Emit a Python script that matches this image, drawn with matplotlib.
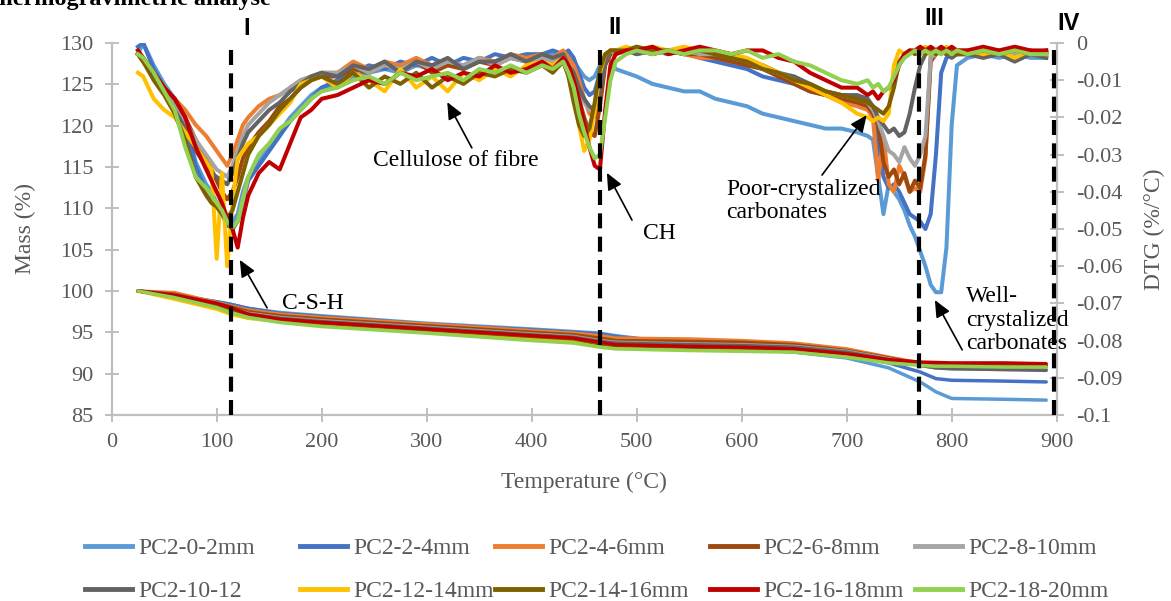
import numpy as np
import matplotlib
matplotlib.use("Agg")
import matplotlib.pyplot as plt
from matplotlib.ticker import FuncFormatter, MultipleLocator

plt.rcParams["font.family"] = ["Liberation Serif", "DejaVu Serif"]
plt.rcParams["axes.unicode_minus"] = False

W, H = 1171, 601

labels = ["PC2-0-2mm", "PC2-2-4mm", "PC2-4-6mm", "PC2-6-8mm", "PC2-8-10mm",
          "PC2-10-12", "PC2-12-14mm", "PC2-14-16mm", "PC2-16-18mm", "PC2-18-20mm"]
colors = ["#5B9BD5", "#4472C4", "#ED7D31", "#9E480E", "#A5A5A5",
          "#636363", "#FFC000", "#7F6000", "#C00000", "#92D050"]

# ---- mass curves (left axis, %) ----
temp_mass = [25, 60, 100, 113, 130, 160, 200, 300, 400, 440, 465, 480,
             550, 600, 650, 700, 740, 770, 785, 800, 850, 890]
mass_0_2 = [100, 99.5, 98.7, 98.4, 97.9, 97.4, 97.0, 96.1, 95.4, 95.1, 94.9, 94.6,
            93.5, 93.0, 92.6, 91.9, 90.7, 89.0, 87.8, 87.0, 86.9, 86.8]
mass_2_4 = [100, 99.5, 98.7, 98.4, 97.9, 97.3, 96.9, 96.0, 95.3, 95.0, 94.8, 94.5,
            93.6, 93.2, 92.9, 92.3, 91.3, 90.2, 89.4, 89.2, 89.1, 89.0]
mass_4_6 = [100, 99.8, 98.6, 98.2, 97.7, 97.2, 96.8, 96.0, 95.2, 94.9, 94.6, 94.3,
            94.2, 94.0, 93.7, 93.0, 92.0, 91.3, 91.2, 91.2, 91.1, 91.0]
mass_6_8 = [100, 99.6, 98.5, 98.1, 97.5, 97.0, 96.6, 95.8, 95.0, 94.7, 94.3, 94.0,
            93.9, 93.8, 93.5, 92.8, 91.9, 91.2, 91.0, 91.0, 90.9, 90.8]
mass_8_10 = [100, 99.5, 98.4, 97.9, 97.3, 96.8, 96.4, 95.6, 94.8, 94.5, 94.0, 93.8,
             93.6, 93.5, 93.3, 92.7, 91.8, 91.0, 90.7, 90.6, 90.5, 90.5]
mass_10_12 = [100, 99.5, 98.3, 97.8, 97.2, 96.7, 96.3, 95.5, 94.7, 94.4, 93.9, 93.7,
              93.5, 93.4, 93.2, 92.6, 91.7, 91.0, 90.7, 90.6, 90.5, 90.4]
mass_12_14 = [100, 99.0, 97.8, 97.2, 96.7, 96.3, 95.9, 95.1, 94.3, 94.0, 93.4, 93.2,
              93.0, 92.9, 92.8, 92.3, 91.5, 91.1, 91.0, 91.0, 90.9, 90.9]
mass_14_16 = [100, 99.3, 98.2, 97.7, 97.0, 96.5, 96.1, 95.3, 94.5, 94.2, 93.6, 93.4,
              93.2, 93.1, 92.9, 92.4, 91.6, 91.2, 91.1, 91.1, 91.0, 91.0]
mass_16_18 = [100, 99.5, 98.5, 98.0, 97.2, 96.6, 96.2, 95.4, 94.6, 94.3, 93.8, 93.5,
              93.3, 93.2, 93.0, 92.4, 91.7, 91.4, 91.35, 91.3, 91.3, 91.2]
mass_18_20 = [100, 99.2, 98.0, 97.4, 96.8, 96.2, 95.7, 94.9, 94.0, 93.7, 93.2, 93.0,
              92.8, 92.7, 92.6, 92.0, 91.3, 91.0, 90.9, 90.9, 90.8, 90.8]

# ---- DTG curves (right axis), read in units of 0.001 %/°C ----
temp_dtg = [25, 30, 40, 50, 60, 70, 80, 90,
            95, 100, 105, 110, 115, 120, 125, 130,
            140, 150, 160, 170, 180, 190, 200,
            215, 230, 245, 260, 275, 290, 305, 320, 335, 350, 365, 380, 395,
            410, 420, 430, 435, 440, 445, 450, 455, 460, 465, 470, 475, 480,
            490, 500, 515, 530, 545, 560, 575, 590, 605, 620, 635, 650, 665, 680, 695,
            710, 720, 725, 730, 735, 740, 745, 750, 755, 760, 765, 770, 775, 780, 785, 790, 795, 800, 805,
            815, 830, 845, 860, 875, 890]
dtg_0_2 = [-3, 0, -6, -11, -15, -22, -32, -38,
           -40, -43, -45, -47, -48, -46, -40, -36,
           -32, -28, -24, -20, -17, -14, -12,
           -11, -9, -8, -7, -8, -6, -7, -5, -6, -4, -5, -4, -5,
           -4, -3, -4, -3, -5, -7, -9, -10, -9, -6, -4, -5, -7,
           -8, -9, -11, -12, -13, -13, -15, -16, -17, -19, -20, -21, -22, -23, -23,
           -24, -25, -26, -36, -46, -38, -40, -42, -45, -49, -52, -56, -60, -65, -67, -67, -55, -22, -6,
           -4, -3, -4, -3, -4, -4]
dtg_2_4 = [-1, 0, -7, -12, -16, -22, -33, -40,
           -42, -44, -46, -49, -50, -48, -43, -37,
           -33, -29, -25, -21, -18, -15, -12,
           -10, -8, -6, -7, -5, -6, -4, -6, -4, -5, -3, -4, -3,
           -3, -2, -3, -2, -4, -8, -12, -14, -13, -8, -4, -3, -2,
           -2, -3, -2, -3, -2, -4, -5, -6, -7, -9, -10, -11, -13, -14, -15,
           -15, -16, -18, -27, -36, -39, -38, -40, -43, -46, -47, -48, -50, -46, -30, -8, -4, -3, -3,
           -3, -2, -3, -2, -3, -3]
dtg_4_6 = [-3, -5, -9, -12, -15, -18, -22, -25,
           -27, -29, -31, -33, -30, -26, -22, -20,
           -17, -15, -14, -12, -10, -9, -8,
           -8, -5, -7, -5, -6, -4, -6, -5, -7, -4, -5, -3, -4,
           -3, -4, -2, -4, -6, -10, -15, -19, -20, -14, -5, -2, -2,
           -2, -1, -3, -2, -3, -4, -4, -5, -5, -6, -8, -10, -12, -14, -16,
           -17, -18, -20, -37, -25, -38, -40, -33, -36, -40, -39, -40, -31, -3, -2, -3, -2, -3, -2,
           -2, -3, -2, -3, -2, -3]
dtg_6_8 = [-3, -4, -8, -12, -15, -20, -26, -31,
           -34, -37, -40, -42, -40, -36, -31, -28,
           -24, -21, -17, -15, -12, -10, -9,
           -9, -7, -8, -6, -7, -5, -8, -6, -7, -5, -6, -4, -5,
           -4, -5, -4, -7, -10, -15, -20, -24, -25, -17, -6, -3, -2,
           -2, -2, -3, -2, -3, -3, -4, -5, -6, -7, -9, -11, -13, -14, -15,
           -16, -17, -19, -22, -32, -36, -34, -38, -35, -40, -37, -39, -30, -5, -3, -2, -3, -2, -3,
           -2, -3, -2, -3, -2, -3]
dtg_8_10 = [-3, -4, -9, -13, -17, -21, -26, -30,
            -32, -34, -35, -36, -33, -29, -25, -22,
            -19, -16, -14, -12, -10, -9, -8,
            -8, -6, -8, -6, -7, -5, -7, -5, -6, -4, -6, -4, -5,
            -4, -5, -3, -6, -9, -13, -16, -18, -17, -12, -5, -2, -3,
            -2, -3, -2, -3, -2, -3, -3, -4, -5, -7, -8, -10, -12, -13, -14,
            -15, -16, -18, -21, -25, -29, -30, -32, -28, -31, -33, -30, -25, -4, -3, -2, -3, -2, -3,
            -2, -3, -2, -3, -3, -2]
dtg_10_12 = [-3, -5, -9, -13, -18, -23, -29, -33,
             -35, -36, -37, -38, -35, -31, -27, -24,
             -21, -18, -16, -13, -11, -9, -8,
             -9, -6, -7, -5, -8, -5, -6, -4, -7, -5, -5, -3, -5,
             -3, -4, -3, -6, -8, -12, -15, -17, -18, -13, -5, -2, -2,
             -2, -3, -2, -2, -3, -2, -3, -4, -5, -6, -8, -9, -11, -13, -14,
             -14, -15, -17, -20, -22, -24, -23, -25, -24, -19, -12, -6, -3, -2, -3, -2, -3, -4, -3,
             -3, -4, -3, -5, -3, -4]
dtg_12_14 = [-8, -9, -15, -18, -20, -24, -28, -32,
             -34, -58, -35, -60, -43, -31, -29, -27,
             -25, -22, -19, -16, -11, -10, -9,
             -12, -8, -10, -13, -7, -12, -9, -13, -8, -10, -7, -9, -6,
             -5, -6, -4, -8, -14, -22, -29, -26, -18, -8, -3, -2, -2,
             -1, -2, -1, -2, -1, -2, -2, -3, -4, -6, -8, -10, -12, -14, -16,
             -19, -20, -21, -20, -21, -19, -6, -2, -3, -2, -3, -2, -1, -2, -3, -2, -1, -3, -2,
             -2, -3, -2, -4, -2, -3]
dtg_14_16 = [-3, -5, -10, -14, -19, -26, -36, -41,
             -43, -44, -46, -47, -45, -40, -35, -30,
             -25, -22, -18, -15, -12, -10, -9,
             -11, -8, -12, -9, -11, -8, -12, -9, -11, -8, -9, -7, -8,
             -6, -8, -5, -9, -16, -22, -25, -23, -16, -7, -3, -2, -2,
             -2, -1, -2, -2, -3, -2, -3, -4, -5, -7, -8, -10, -11, -13, -14,
             -15, -16, -17, -18, -19, -17, -12, -5, -3, -2, -3, -2, -3, -2, -3, -2, -3, -2, -3,
             -3, -2, -3, -2, -3, -2]
dtg_16_18 = [-2, -4, -8, -12, -15, -20, -28, -34,
             -37, -40, -43, -47, -50, -55, -47, -41,
             -35, -32, -34, -27, -20, -18, -15,
             -14, -12, -10, -11, -8, -9, -7, -10, -8, -9, -6, -8, -7,
             -5, -7, -4, -6, -10, -15, -22, -28, -33, -34, -18, -6, -3,
             -2, -2, -1, -3, -2, -1, -2, -3, -2, -2, -4, -5, -8, -10, -12,
             -12, -14, -13, -15, -13, -12, -10, -6, -3, -2, -2, -1, -2, -1, -2, -1, -2, -1, -2,
             -2, -1, -2, -1, -2, -2]
dtg_18_20 = [-3, -4, -8, -13, -18, -28, -36, -39,
             -41, -43, -45, -48, -49.5, -48, -42, -36,
             -30, -27, -23, -21, -18, -15, -13,
             -12, -10, -9, -11, -8, -10, -9, -8, -10, -7, -8, -6, -8,
             -6, -7, -5, -8, -12, -19, -24, -28, -31, -30, -20, -10, -5,
             -3, -2, -3, -2, -3, -2, -2, -3, -2, -4, -3, -5, -6, -8, -10,
             -11, -10, -12, -11, -13, -12, -9, -6, -4, -3, -2, -3, -2, -3, -2, -3, -2, -3, -2,
             -3, -2, -3, -2, -3, -3]

mass_series = [mass_0_2, mass_2_4, mass_4_6, mass_6_8, mass_8_10,
               mass_10_12, mass_12_14, mass_14_16, mass_16_18, mass_18_20]
dtg_series = [dtg_0_2, dtg_2_4, dtg_4_6, dtg_6_8, dtg_8_10,
              dtg_10_12, dtg_12_14, dtg_14_16, dtg_16_18, dtg_18_20]

# decomposition stage boundaries (°C)
stage_temps = [114, 465, 769, 897]
stage_names = ["I", "II", "III", "IV"]
stage_label_y = [0.0040, 0.0043, 0.0067, 0.0052]

grey = "#BFBFBF"
tick_grey = "#595959"

fig = plt.figure(figsize=(W / 100, H / 100), dpi=100)
ax1 = fig.add_axes([111.7 / W, 1 - 415 / H, 945 / W, 372 / H])
ax2 = ax1.twinx()

for m, c in zip(mass_series, colors):
    ax1.plot(temp_mass, m, color=c, lw=2.5, solid_capstyle="round")

handles = []
for d, c in zip(dtg_series, colors):
    h, = ax2.plot(temp_dtg, np.array(d) / 1000, color=c, lw=2.9, solid_joinstyle="round")
    handles.append(h)

ax1.set_xlim(0, 900)
ax1.set_ylim(85, 130)
ax2.set_ylim(-0.1, 0)
ax1.xaxis.set_major_locator(MultipleLocator(100))
ax1.yaxis.set_major_locator(MultipleLocator(5))
ax2.yaxis.set_major_locator(MultipleLocator(0.01))
ax2.yaxis.set_major_formatter(FuncFormatter(lambda v, p: "%g" % round(v, 3)))

for ax in (ax1, ax2):
    for s in ax.spines.values():
        s.set_visible(False)
ax1.spines["left"].set_visible(True)
ax1.spines["bottom"].set_visible(True)
ax2.spines["right"].set_visible(True)
for s in (ax1.spines["left"], ax1.spines["bottom"], ax2.spines["right"]):
    s.set_color(grey)
    s.set_linewidth(1.6)

ax1.tick_params(axis="both", direction="inout", length=10, width=1.4, color=grey,
                labelcolor=tick_grey, labelsize=16, pad=8)
ax2.tick_params(axis="y", direction="inout", length=10, width=1.4, color=grey,
                labelcolor=tick_grey, labelsize=16, pad=9)

ax1.set_xlabel("Temperature (°C)", fontsize=17, color=tick_grey)
ax1.set_ylabel("Mass (%)", fontsize=17, color=tick_grey)
ax2.set_ylabel("DTG (%/°C)", fontsize=17, color=tick_grey)
ax1.xaxis.set_label_coords(0.5, -0.152)
ax1.yaxis.set_label_coords(-0.080, 0.5)
ax2.yaxis.set_label_coords(1.092, 0.5)

# stage boundaries
for t, name, ly in zip(stage_temps, stage_names, stage_label_y):
    ax2.axvline(t, color="black", lw=3, linestyle=(0, (3.6, 2)), zorder=10)
    ax2.annotate(name, (t, ly), xytext=(11, 0), textcoords="offset points",
                 ha="center", va="center", fontsize=17, fontweight="bold",
                 family=["Liberation Sans", "DejaVu Sans"], annotation_clip=False)

arrow = dict(arrowstyle="-|>,head_length=0.85,head_width=0.38", color="black",
             lw=1.2, shrinkA=0, shrinkB=0, mutation_scale=12)
ax2.annotate("", xy=(122, -0.0583), xytext=(148, -0.0712), arrowprops=arrow, zorder=11)
ax2.text(192, -0.0699, "C-S-H", fontsize=17, ha="center", va="center", zorder=9)
ax2.annotate("", xy=(319.6, -0.0159), xytext=(343, -0.0282), arrowprops=arrow, zorder=11)
ax2.text(328, -0.0315, "Cellulose of fibre", fontsize=17, ha="center", va="center", zorder=9)
ax2.annotate("", xy=(471.6, -0.0349), xytext=(495.5, -0.0476), arrowprops=arrow, zorder=11)
ax2.text(522, -0.0511, "CH", fontsize=17, ha="center", va="center", zorder=9)
ax2.annotate("", xy=(719, -0.0194), xytext=(676.5, -0.0355), arrowprops=arrow, zorder=11)
ax2.text(585, -0.0425, "Poor-crystalized\ncarbonates", fontsize=17, ha="left", va="center",
         linespacing=1.15, zorder=9)
ax2.annotate("", xy=(784, -0.0691), xytext=(810, -0.0825), arrowprops=arrow, zorder=11)
ax2.text(813.6, -0.0745, "Well-\ncrystalized\ncarbonates", fontsize=17, ha="left", va="center",
         linespacing=1.15, zorder=9)

# title, cut off by the top edge as in the source
fig.text(-17 / W, 1 - 5 / H, "Thermogravimetric analyse", fontsize=17.5, fontweight="bold",
         ha="left", va="baseline")

# legend: five columns of two entries
col_x = [85, 300, 495, 710, 915]
for i, x in enumerate(col_x):
    fig.legend([handles[i], handles[i + 5]], [labels[i], labels[i + 5]],
               loc="center left", bbox_to_anchor=(x / W, 1 - 570 / H),
               frameon=False, fontsize=17, handlelength=2.0, handletextpad=0.25,
               labelspacing=0.89, borderpad=0, borderaxespad=0,
               labelcolor=tick_grey)
for leg in fig.legends:
    for line in leg.get_lines():
        line.set_linewidth(3.5)

fig.savefig("out.png", dpi=100)
